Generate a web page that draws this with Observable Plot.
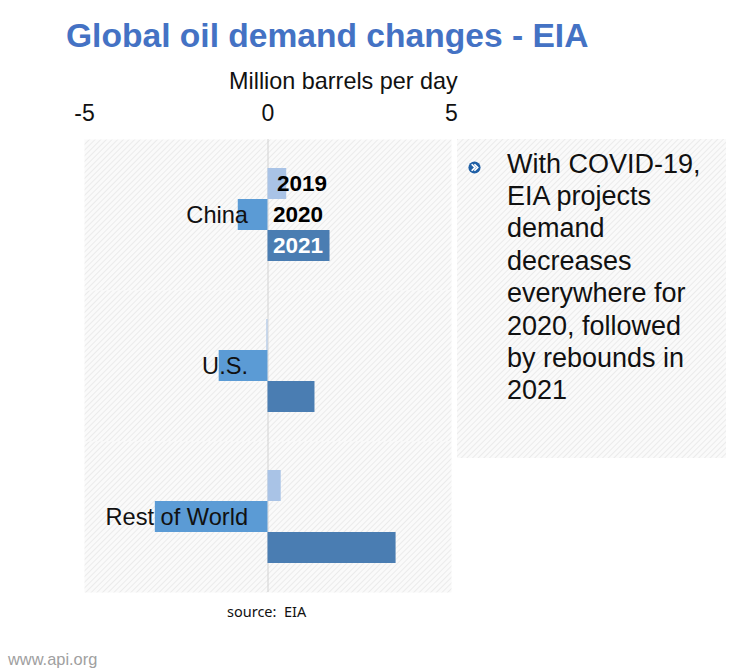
<!DOCTYPE html>
<html>
<head>
<meta charset="utf-8">
<script src="https://cdn.jsdelivr.net/npm/d3@7"></script>
<script src="https://cdn.jsdelivr.net/npm/@observablehq/plot@0.6"></script>
<style>
  html, body { margin: 0; padding: 0; background: #fff; }
  #wrap { position: relative; width: 733px; height: 671px; overflow: hidden; font-family: "Liberation Sans", Arial, sans-serif; color: #111; }
  .abs { position: absolute; white-space: pre; line-height: normal; }
  #title { left: 66px; top: 16.7px; font-size: 33.6px; font-weight: bold; color: #4472c4; }
  #xlabel { left: 229px; top: 67.8px; font-size: 23.4px; }
  #box { left: 457px; top: 139px; width: 269px; height: 319px; }
  #boxtext { left: 507px; top: 147.5px; font-size: 27px; line-height: 32.4px; }
  #bullet { left: 468px; top: 160.5px; }
  #source { left: 227px; top: 600.5px; font-family: "Noto Sans", sans-serif; font-size: 14.5px; }
  #www { left: 8px; top: 650px; font-size: 16.4px; color: #a0a0a0; }
  #chart { position: absolute; left: 0; top: 0; }
</style>
</head>
<body>
<div id="wrap">
  <svg id="box" class="abs" width="269" height="319">
    <defs>
      <pattern id="hatch2" width="4" height="4" patternUnits="userSpaceOnUse" patternTransform="rotate(45)">
        <rect width="4" height="4" fill="#fafafa"></rect>
        <line x1="0" y1="0" x2="0" y2="4" stroke="#e8e8e8" stroke-width="1.6"></line>
      </pattern>
    </defs>
    <rect width="269" height="319" fill="url(#hatch2)"></rect>
  </svg>
  <div id="chart"></div>
  <div id="title" class="abs"></div>
  <div id="xlabel" class="abs"></div>
  <svg id="bullet" class="abs" width="13" height="13" viewBox="0 0 12 12">
    <circle cx="6" cy="6" r="5.6" fill="#1f5fa6"></circle>
    <path d="M3.4 3.0 L6.4 6 L3.4 9.0 M5.9 3.0 L8.9 6 L5.9 9.0" stroke="#fff" stroke-width="1.6" fill="none"></path>
  </svg>
  <div id="boxtext" class="abs"></div>
  <div id="source" class="abs"></div>
  <div id="www" class="abs"></div>
</div>
<script>
// ---- data ----
const regions = ["China", "U.S.", "Rest of World"];
const years = ["2019", "2020", "2021"];
const chinaValues = [0.51, -0.81, 1.69];
const usValues = [-0.03, -1.33, 1.28];
const restOfWorldValues = [0.36, -3.07, 3.49];
const xTicks = [-5, 0, 5];
const xTickLabels = ["-5", "0", "5"];
const yearColors = ["#a9c3e6", "#5b9bd5", "#4a7db2"];
const yearLabelColors = ["#000", "#000", "#fff"];
const titleText = "Global oil demand changes - EIA";
const xLabelText = "Million barrels per day";
const noteLines = ["With COVID-19,", "EIA projects", "demand", "decreases", "everywhere for", "2020, followed", "by rebounds in", "2021"];
const sourceText = "source:  EIA";
const siteText = "www.api.org";

const valuesByRegion = [chinaValues, usValues, restOfWorldValues];
const table = regions.flatMap((r, i) => years.map((y, j) => ({region: r, year: y, value: valuesByRegion[i][j]})));
const regionRows = regions.map(r => ({region: r}));
const yearRows = years.map((y, j) => ({region: regions[0], year: y, color: yearLabelColors[j]}));

document.getElementById("title").textContent = titleText;
document.getElementById("xlabel").textContent = xLabelText;
document.getElementById("boxtext").innerHTML = noteLines.map(s => s.replace(/&/g, "&amp;")).join("<br>");
document.getElementById("source").textContent = sourceText;
document.getElementById("www").textContent = siteText;

const hatchDefs = () => {
  const defs = document.createElementNS("http://www.w3.org/2000/svg", "defs");
  defs.innerHTML = `<pattern id="hatch" width="4" height="4" patternUnits="userSpaceOnUse" patternTransform="rotate(45)">
      <rect width="4" height="4" fill="#fafafa"></rect>
      <line x1="0" y1="0" x2="0" y2="4" stroke="#e8e8e8" stroke-width="1.6"></line>
    </pattern>`;
  return defs;
};

const chart = Plot.plot({
  width: 460,
  height: 600,
  marginLeft: 84,
  marginRight: 9,
  marginTop: 138,
  marginBottom: 8,
  style: {fontFamily: "'Liberation Sans', Arial, sans-serif", fontSize: "23px", color: "#111", background: "transparent"},
  x: {domain: [-5, 5], axis: "top", ticks: xTicks, tickFormat: (d, i) => xTickLabels[i], tickSize: 0, tickPadding: 19, label: null},
  fy: {domain: regions, padding: 0, axis: null},
  y: {domain: years, paddingInner: 0, paddingOuter: 0.9, axis: null},
  color: {domain: years, range: yearColors},
  marks: [
    hatchDefs,
    Plot.frame({fill: "url(#hatch)", stroke: "none"}),
    Plot.ruleX([0], {stroke: "#d2d2d2", strokeWidth: 1}),
    Plot.barX(table, {fy: "region", y: "year", x: "value", fill: "year"}),
    Plot.text(regionRows, {fy: "region", x: 0, dx: -20, text: "region", textAnchor: "end", fontSize: 23.6, fill: "#111"}),
    Plot.text(yearRows.filter(d => d.year === years[0]), {fy: "region", y: "year", x: 0, dx: 9, text: "year", textAnchor: "start", fontSize: 22.5, fontWeight: "bold", fill: "color"}),
    Plot.text(yearRows.filter(d => d.year !== years[0]), {fy: "region", y: "year", x: 0, dx: 5, text: "year", textAnchor: "start", fontSize: 22.5, fontWeight: "bold", fill: "color"})
  ]
});
document.getElementById("chart").appendChild(chart);
</script>
</body>
</html>
